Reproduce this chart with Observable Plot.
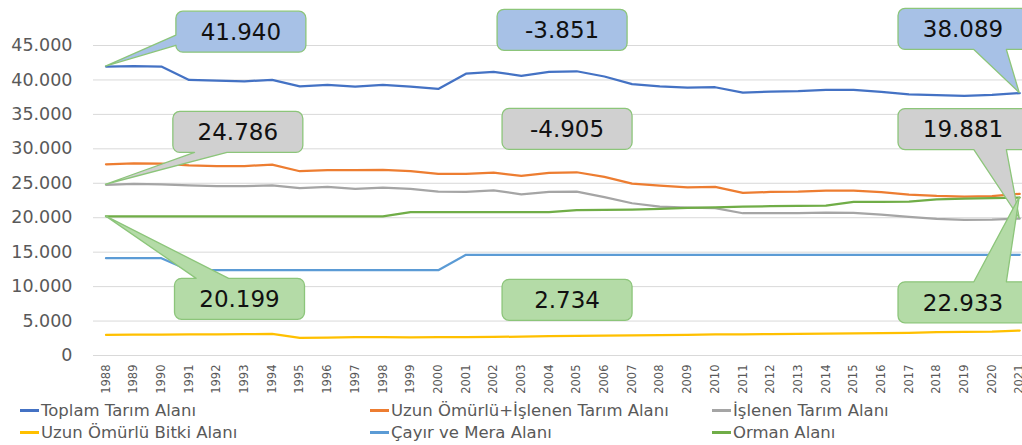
<!DOCTYPE html>
<html><head><meta charset="utf-8">
<script src="https://cdn.jsdelivr.net/npm/d3@7"></script>
<script src="https://cdn.jsdelivr.net/npm/@observablehq/plot@0.6"></script>
<style>
body{margin:0;background:#fff;font-family:"DejaVu Sans",sans-serif;}
#chart{position:relative;width:1022px;height:445px;overflow:hidden;background:#fff}
#chart svg{display:block}
.legend{display:grid;grid-template-columns:350px 342px 310px;padding-left:20px;font-size:16.5px;color:#595959;line-height:22px}
.legend span.sw{display:inline-block;width:19px;height:2.5px;vertical-align:middle;margin-right:2px;position:relative;top:-1px}
</style></head><body><div id="chart"></div>
<script>
const years = [1988,1989,1990,1991,1992,1993,1994,1995,1996,1997,1998,1999,2000,2001,2002,2003,2004,2005,2006,2007,2008,2009,2010,2011,2012,2013,2014,2015,2016,2017,2018,2019,2020,2021];
const seriesNames = ["Toplam Tarım Alanı","Uzun Ömürlü+İşlenen Tarım Alanı","İşlenen Tarım Alanı","Uzun Ömürlü Bitki Alanı","Çayır ve Mera Alanı","Orman Alanı"];
const toplam = [41940,42000,41950,40000,39900,39800,40000,39080,39270,39030,39270,39030,38700,40900,41160,40600,41160,41260,40500,39400,39080,38900,38940,38160,38300,38360,38550,38550,38260,37920,37780,37680,37820,38089];
const uzunIslenen = [27760,27900,27850,27600,27500,27500,27700,26750,26900,26900,26940,26750,26360,26360,26550,26070,26500,26600,25920,24950,24660,24420,24470,23600,23740,23790,23930,23930,23700,23360,23160,23070,23120,23470];
const islenen = [24786,24900,24850,24700,24600,24570,24700,24280,24470,24180,24370,24180,23790,23740,23980,23400,23740,23790,23000,22100,21600,21470,21380,20650,20650,20650,20740,20700,20450,20120,19830,19680,19730,19881];
const uzunBitki = [2990,3020,3040,3050,3060,3100,3150,2550,2600,2650,2680,2620,2650,2680,2700,2740,2800,2850,2880,2920,2960,3000,3050,3080,3120,3150,3180,3220,3250,3280,3380,3420,3450,3620];
const cayir = [14120,14120,14120,12378,12378,12378,12378,12378,12378,12378,12378,12378,12378,14617,14617,14617,14617,14617,14617,14617,14617,14617,14617,14617,14617,14617,14617,14617,14617,14617,14617,14617,14617,14617];
const orman = [20199,20199,20199,20199,20199,20199,20199,20199,20199,20199,20199,20800,20800,20800,20800,20800,20800,21090,21130,21180,21280,21420,21520,21600,21670,21710,21760,22300,22300,22340,22680,22780,22830,22933];
const yTicks = [0,5000,10000,15000,20000,25000,30000,35000,40000,45000];

const colors = ["#4472C4","#ED7D31","#A5A5A5","#FFC000","#5B9BD5","#70AD47"];
const seriesValues = [toplam, uzunIslenen, islenen, uzunBitki, cayir, orman];
const rows = seriesValues.flatMap((vals, i) => vals.map((v, j) => ({year: years[j], value: v, series: seriesNames[i]})));

const locale = d3.formatLocale({decimal: ",", thousands: ".", grouping: [3], currency: ["", " ₺"], minus: "-"});
const fmt = locale.format(",d");

const blueFill = "#a7c1e6", grayFill = "#d0d0d0", greenFill = "#b4dba7";
// callout annotations: which series, what to show, box centre in data units
const callouts = [
  {s: toplam, kind: "start", cx: 1992.89, cy: 46930, fill: blueFill},
  {s: toplam, kind: "diff",  cx: 2004.49, cy: 47210, fill: blueFill},
  {s: toplam, kind: "end",   cx: 2018.97, cy: 47330, fill: blueFill},
  {s: islenen, kind: "start", cx: 1992.78, cy: 32380, fill: grayFill},
  {s: islenen, kind: "diff",  cx: 2004.67, cy: 32820, fill: grayFill},
  {s: islenen, kind: "end",   cx: 2018.97, cy: 32790, fill: grayFill},
  {s: orman, kind: "start", cx: 1992.84, cy: 8150, fill: greenFill},
  {s: orman, kind: "diff",  cx: 2004.67, cy: 8010, fill: greenFill},
  {s: orman, kind: "end",   cx: 2018.97, cy: 7650, fill: greenFill}
];

function calloutPath(l, t, w, h, px, py, rad) {
  const r = l + w, b = t + h, hc = l + w / 2, vc = t + h / 2;
  const p = [];
  p.push(`M${l + rad},${t}`);
  if (px == null) {
    p.push(`L${r - rad},${t}A${rad},${rad} 0 0 1 ${r},${t + rad}L${r},${b - rad}A${rad},${rad} 0 0 1 ${r - rad},${b}L${l + rad},${b}A${rad},${rad} 0 0 1 ${l},${b - rad}L${l},${t + rad}A${rad},${rad} 0 0 1 ${l + rad},${t}Z`);
    return p.join("");
  }
  const dx = px - hc, dy = py - vc;
  const dz = Math.abs(dy) - Math.abs(dx * h / w);
  const x1 = l + w * (dx > 0 ? 7 : 2) / 12, x2 = l + w * (dx > 0 ? 10 : 5) / 12;
  const y1 = t + h * (dy > 0 ? 7 : 2) / 12, y2 = t + h * (dy > 0 ? 10 : 5) / 12;
  const edge = dz > 0 ? (dy > 0 ? "bottom" : "top") : (dx < 0 ? "left" : "right");
  if (edge === "top") p.push(`L${x1},${t}L${px},${py}L${x2},${t}`);
  p.push(`L${r - rad},${t}A${rad},${rad} 0 0 1 ${r},${t + rad}`);
  if (edge === "right") p.push(`L${r},${y1}L${px},${py}L${r},${y2}`);
  p.push(`L${r},${b - rad}A${rad},${rad} 0 0 1 ${r - rad},${b}`);
  if (edge === "bottom") p.push(`L${x2},${b}L${px},${py}L${x1},${b}`);
  p.push(`L${l + rad},${b}A${rad},${rad} 0 0 1 ${l},${b - rad}`);
  if (edge === "left") p.push(`L${l},${y2}L${px},${py}L${l},${y1}`);
  p.push(`L${l},${t + rad}A${rad},${rad} 0 0 1 ${l + rad},${t}Z`);
  return p.join("");
}

function calloutMark(index, scales) {
  const g = d3.create("svg:g");
  const W = 130, H = 41;
  for (const c of callouts) {
    const first = c.s[0], last = c.s[c.s.length - 1];
    const value = c.kind === "start" ? first : c.kind === "end" ? last : last - first;
    const cx = scales.x(c.cx), cy = scales.y(c.cy);
    let px = null, py = null;
    if (c.kind === "start") { px = scales.x(years[0]); py = scales.y(first); }
    if (c.kind === "end") { px = scales.x(years[years.length - 1]); py = scales.y(last); }
    g.append("path")
      .attr("d", calloutPath(cx - W / 2, cy - H / 2, W, H, px, py, 7))
      .attr("fill", c.fill).attr("stroke", "#8cc57a").attr("stroke-width", 1.3).attr("stroke-linejoin", "round");
    g.append("text").attr("x", cx).attr("y", cy).attr("dy", "0.36em")
      .attr("text-anchor", "middle").attr("font-size", 23).attr("fill", "#111")
      .attr("font-family", "DejaVu Sans").text(fmt(value));
  }
  return g.node();
}

const plot = Plot.plot({
  width: 1022, height: 400,
  marginLeft: 93, marginRight: 0, marginTop: 45, marginBottom: 45,
  style: {fontFamily: "DejaVu Sans", background: "white"},
  x: {type: "linear", domain: [1987.549, 2021.1]},
  y: {domain: [0, 45000]},
  color: {domain: seriesNames, range: colors},
  marks: [
    Plot.ruleY(yTicks, {stroke: "#d9d9d9", strokeWidth: 1}),
    Plot.axisY(yTicks, {tickSize: 0, tickPadding: 21, tickFormat: fmt, fontSize: 17.5, fill: "#595959", label: null}),
    Plot.axisX(years, {tickSize: 0, tickRotate: -90, tickPadding: 9, tickFormat: d => String(d), fontSize: 11.5, fill: "#595959", label: null}),
    Plot.line(rows, {x: "year", y: "value", z: "series", stroke: "series", strokeWidth: 2.25}),
    calloutMark
  ]
});
const chart = document.getElementById("chart");
chart.appendChild(plot);
const legend = document.createElement("div");
legend.className = "legend";
for (let i = 0; i < seriesNames.length; i++) {
  const item = document.createElement("div");
  const sw = document.createElement("span");
  sw.className = "sw"; sw.style.background = colors[i];
  item.appendChild(sw);
  item.appendChild(document.createTextNode(seriesNames[i]));
  legend.appendChild(item);
}
chart.appendChild(legend);
</script></body></html>
